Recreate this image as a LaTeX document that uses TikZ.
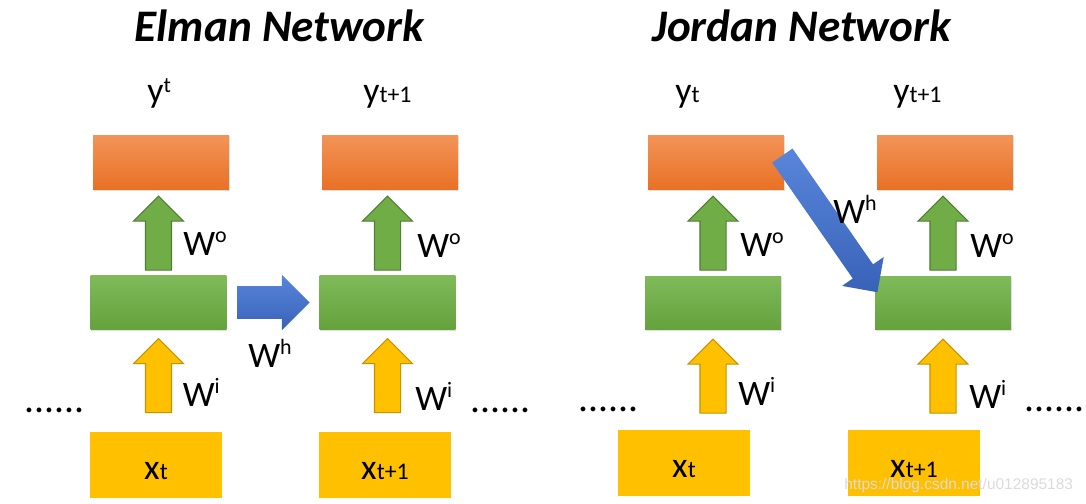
\documentclass[tikz,border=0pt]{standalone}
\usepackage{fontspec}
\setmainfont{Carlito}
\newfontfamily\urlfont{Liberation Sans}
\usetikzlibrary{shapes.arrows,calc,shadows}
\definecolor{orangetop}{RGB}{243,148,88}
\definecolor{orangebot}{RGB}{232,112,36}
\definecolor{greentop}{RGB}{128,186,90}
\definecolor{greenbot}{RGB}{100,162,60}
\definecolor{greenfill}{RGB}{112,173,71}
\definecolor{greenline}{RGB}{80,126,50}
\definecolor{gold}{RGB}{255,192,0}
\definecolor{goldline}{RGB}{196,148,0}
\definecolor{bluetop}{RGB}{88,134,218}
\definecolor{bluebot}{RGB}{56,98,184}
\newcommand{\bigsz}{\fontsize{20.4pt}{24pt}\selectfont}
\newcommand{\smsz}{\fontsize{13.6pt}{16pt}\selectfont}
\newcommand{\supsz}{\fontsize{12.5pt}{15pt}\selectfont}
\newcommand{\wsup}[1]{W\raisebox{7pt}{\supsz #1}}
\begin{document}
\begin{tikzpicture}[
            x=0.02cm, y=-0.02cm,
            box/.style={
                rectangle,
                inner sep=0pt,
                minimum width=2.72cm
            },
            outbox/.style={
                box,
                minimum height=1.1cm,
                top color=orangetop,
                bottom color=orangebot,
                drop shadow={opacity=0.25, shadow xshift=0.5pt, shadow yshift=-0.8pt}
            },
            hidbox/.style={
                box,
                minimum height=1.08cm,
                top color=greentop,
                bottom color=greenbot,
                drop shadow={opacity=0.25, shadow xshift=0.5pt, shadow yshift=-0.8pt}
            },
            inbox/.style={
                box,
                minimum width=2.66cm,
                minimum height=1.32cm,
                fill=gold,
                font=\bigsz,
                text height=0.58cm
            },
            uparrow/.style={
                single arrow,
                rotate=90,
                anchor=tip,
                minimum height=1.48cm,
                inner xsep=0pt,
                inner ysep=0.25cm,
                single arrow head extend=0.24cm,
                single arrow head indent=0pt,
                line width=0.6pt
            },
            warrow/.style={
                uparrow,
                fill=greenfill,
                draw=greenline
            },
            iarrow/.style={
                uparrow,
                fill=gold,
                draw=goldline
            },
            harrow/.style={
                single arrow,
                anchor=tip,
                inner xsep=0pt,
                inner ysep=0.26cm,
                single arrow head extend=0.26cm,
                single arrow head indent=0pt,
                top color=bluetop,
                bottom color=bluebot
            },
            lab/.style={
                anchor=base west,
                inner sep=0pt,
                font=\bigsz
            },
            dots/.style={
                lab,
                font=\fontsize{22.5pt}{26pt}\selectfont
            },
            title/.style={
                anchor=base,
                inner sep=0pt,
                font=\fontsize{25.7pt}{30pt}\selectfont\bfseries\itshape
            }
        ]

            \useasboundingbox (0,0) rectangle (1086,504);

            \node[title] (elman) at (279.5,41) {Elman Network};
            \node[title] (jordan) at (801.5,41) {Jordan Network};

            \node[outbox] (o1) at (161,162.5) {};
            \node[outbox] (o2) at (390,162.5) {};
            \node[outbox] (o3) at (716,162.5) {};
            \node[outbox] (o4) at (945,162.5) {};

            \node[hidbox] (h1) at (158.5,302.5) {};
            \node[hidbox] (h2) at (387.5,302.5) {};
            \node[hidbox] (h3) at (713,303) {};
            \node[hidbox] (h4) at (943,303) {};

            \node[inbox] (x1) at (156,465) {x{\smsz t}};
            \node[inbox] (x2) at (385,465) {x{\smsz t+1}};
            \node[inbox] (x3) at (684,463) {x{\smsz t}};
            \node[inbox] (x4) at (914,463) {x{\smsz t+1}};

            \node[lab] (y1) at (147,102) {y\raisebox{5.5pt}{\supsz t}};
            \node[lab] (y2) at (363,102) {y{\smsz t+1}};
            \node[lab] (y3) at (675,102) {y{\smsz t}};
            \node[lab] (y4) at (893,102) {y{\smsz t+1}};

            \node[warrow] (wo1) at ($(o1.south -| h1.center)+(0,5)$) {};
            \node[warrow] (wo2) at ($(o2.south -| h2.center)+(0,5)$) {};
            \node[warrow] (wo3) at ($(o3.south -| h3.center)+(0,5)$) {};
            \node[warrow] (wo4) at ($(o4.south -| h4.center)+(0,5)$) {};

            \node[iarrow] (wi1) at ($(h1.south)+(0,8)$) {};
            \node[iarrow] (wi2) at ($(h2.south)+(0,8)$) {};
            \node[iarrow] (wi3) at ($(h3.south)+(0,8)$) {};
            \node[iarrow] (wi4) at ($(h4.south)+(0,8)$) {};

            \node[harrow, minimum height=1.44cm, inner ysep=0.32cm,
                single arrow head extend=0.23cm] (wh1) at ($(h2.west)+(-9,0)$) {};
            \node[harrow, minimum height=3.33cm, rotate=-55.2,
                inner ysep=0.24cm] (wh2) at ($(h4.north west)+(3,17)$) {};

            \node[lab] (lo1) at (183,255) {\wsup{o}};
            \node[lab] (lo2) at (417,257) {\wsup{o}};
            \node[lab] (lo3) at (740,256) {\wsup{o}};
            \node[lab] (lo4) at (970,257) {\wsup{o}};

            \node[lab] (li1) at (182.5,406) {\wsup{i}};
            \node[lab] (li2) at (415,410) {\wsup{i}};
            \node[lab] (li3) at (738,405) {\wsup{i}};
            \node[lab] (li4) at (969,408) {\wsup{i}};

            \node[lab] (lh1) at (248,367) {\wsup{h}};
            \node[lab] (lh2) at (833,223) {\wsup{h}};

            \node[dots] (d1) at (24,412) {......};
            \node[dots] (d2) at (470,412) {......};
            \node[dots] (d3) at (578,411) {......};
            \node[dots] (d4) at (1024,411) {......};

            \node[anchor=base west, inner sep=0pt, text=white!72!gray,
                font=\urlfont\fontsize{8.8pt}{10pt}\selectfont]
                (url) at (844,489) {https://blog.csdn.net/u012895183};

        \end{tikzpicture}
\end{document}
